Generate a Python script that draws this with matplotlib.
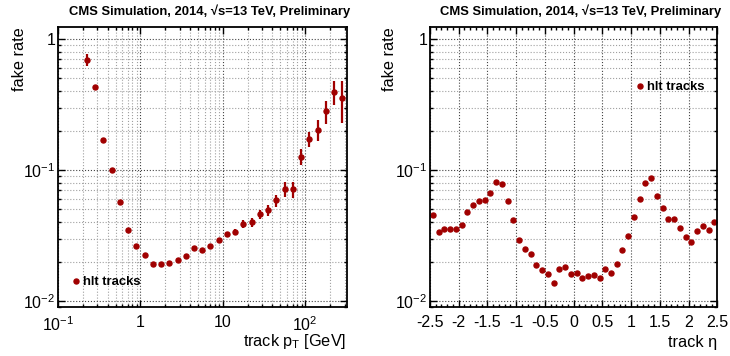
import matplotlib
matplotlib.use("Agg")
import matplotlib.pyplot as plt
import numpy as np
from matplotlib.lines import Line2D
from matplotlib.ticker import FixedLocator, FuncFormatter, NullFormatter, MultipleLocator, LogLocator

plt.rcParams['font.family'] = ['Liberation Sans', 'DejaVu Sans']
plt.rcParams['mathtext.fontset'] = 'custom'
plt.rcParams['mathtext.rm'] = 'Liberation Sans'
plt.rcParams['mathtext.it'] = 'Liberation Sans:italic'
plt.rcParams['mathtext.bf'] = 'Liberation Sans:bold'
plt.rcParams['mathtext.default'] = 'regular'
plt.rcParams['axes.unicode_minus'] = False

# ---- data ----
# pT binning: 0.1 decade bins from 10^-1 to 10^2.5, first 3 bins empty
pt_edges = np.logspace(-1, 2.5, 36)
pt_centers = np.sqrt(pt_edges[:-1] * pt_edges[1:])[3:]
pt_rate = [0.695, 0.429, 0.170, 0.100, 0.0566, 0.0347, 0.0265, 0.0225, 0.0193, 0.0192,
           0.0195, 0.0207, 0.0222, 0.0255, 0.0247, 0.0262, 0.0290, 0.0322, 0.0337, 0.0388,
           0.0400, 0.0461, 0.0494, 0.0586, 0.0716, 0.0713, 0.1264, 0.172, 0.203, 0.281,
           0.397, 0.354]
pt_err = [0.07, 0.012, 0.005, 0.003, 0.0015, 0.001, 0.0008, 0.0007, 0.0006, 0.0006,
          0.0006, 0.0007, 0.0008, 0.0009, 0.0009, 0.001, 0.0012, 0.0015, 0.0017, 0.0024,
          0.0033, 0.0035, 0.0047, 0.006, 0.009, 0.010, 0.018, 0.023, 0.036, 0.056,
          0.081, 0.126]

# eta binning: 50 bins from -2.5 to 2.5
eta_edges = np.linspace(-2.5, 2.5, 51)
eta_centers = 0.5 * (eta_edges[:-1] + eta_edges[1:])
eta_rate = [0.0453, 0.0337, 0.0352, 0.0352, 0.0352, 0.0382, 0.0477, 0.0543, 0.0582, 0.0586,
            0.0670, 0.0814, 0.0785, 0.0576, 0.0419, 0.0293, 0.0250, 0.0229, 0.0187, 0.0171,
            0.0162, 0.0138, 0.0175, 0.0182, 0.0162, 0.0165, 0.0151, 0.0155, 0.0159, 0.0151,
            0.0175, 0.0165, 0.0190, 0.0244, 0.0311, 0.0435, 0.0600, 0.0796, 0.0864, 0.0633,
            0.0509, 0.0422, 0.0422, 0.0362, 0.0309, 0.0283, 0.0341, 0.0373, 0.0349, 0.0400]

title = "CMS Simulation, 2014, \u221as=13 TeV, Preliminary"
red = '#a00000'
ylo, yhi = 0.009, 1.23
ms = 3.6

W, H = 730, 356
fig = plt.figure(figsize=(W / 100, H / 100), dpi=100)
ax1 = fig.add_axes([58 / W, 1 - 307 / H, 288.5 / W, 279.7 / H])
ax2 = fig.add_axes([430 / W, 1 - 307 / H, 287.3 / W, 279.7 / H])


def pow_label(v, pos):
    e = int(round(np.log10(v)))
    if e == 0:
        return '1'
    if e == 1:
        return '10'
    return r'$10^{%d}$' % e


for ax in (ax1, ax2):
    ax.set_yscale('log')
    ax.set_ylim(ylo, yhi)
    ax.yaxis.set_major_locator(FixedLocator([0.01, 0.1, 1]))
    ax.yaxis.set_minor_locator(LogLocator(base=10, subs=np.arange(2, 10)))
    ax.yaxis.set_major_formatter(FuncFormatter(pow_label))
    ax.yaxis.set_minor_formatter(NullFormatter())
    ax.tick_params(which='both', direction='in', top=True, right=True, labelsize=11.5, width=1)
    ax.tick_params(which='major', length=4.8)
    ax.tick_params(which='minor', length=2.5)
    ax.tick_params(axis='y', pad=2)
    ax.tick_params(axis='x', pad=6)
    for s in ax.spines.values():
        s.set_linewidth(1.3)

handle = Line2D([], [], ls='none', marker='o', ms=ms, color=red)

# left panel: pT
ax1.set_xscale('log')
ax1.set_xlim(0.1, 10 ** 2.5)
ax1.xaxis.set_major_locator(FixedLocator([0.1, 1, 10, 100]))
ax1.xaxis.set_minor_locator(LogLocator(base=10, subs=np.arange(2, 10)))
ax1.xaxis.set_major_formatter(FuncFormatter(pow_label))
ax1.xaxis.set_minor_formatter(NullFormatter())
ax1.grid(which='major', ls=':', color='#444444', lw=0.8)
ax1.grid(which='minor', ls=':', color='#a0a0a0', lw=0.8)
ax1.set_axisbelow(True)
ax1.errorbar(pt_centers, pt_rate, yerr=pt_err, fmt='o', ms=ms, color=red,
             elinewidth=1.6, capsize=0)
ax1.legend([handle], ['hlt tracks'], loc='center left', bbox_to_anchor=(0.049, 0.088),
           frameon=False, handlelength=0.6, handletextpad=0.25, borderpad=0,
           borderaxespad=0, prop={'weight': 'bold', 'size': 9.4})

# right panel: eta
ax2.set_xlim(-2.5, 2.5)
ax2.xaxis.set_major_locator(MultipleLocator(0.5))
ax2.xaxis.set_minor_locator(MultipleLocator(0.1))
ax2.xaxis.set_major_formatter(FuncFormatter(lambda v, p: '%g' % round(v, 1)))
ax2.grid(which='major', axis='x', ls=':', color='#444444', lw=0.8)
ax2.grid(which='major', axis='y', ls=':', color='#444444', lw=0.8)
ax2.grid(which='minor', axis='y', ls=':', color='#a0a0a0', lw=0.8)
ax2.set_axisbelow(True)
ax2.plot(eta_centers, eta_rate, 'o', ms=ms, color=red)
ax2.legend([handle], ['hlt tracks'], loc='center left', bbox_to_anchor=(0.718, 0.7855),
           frameon=False, handlelength=0.6, handletextpad=0.25, borderpad=0,
           borderaxespad=0, prop={'weight': 'bold', 'size': 9.4})

# titles and axis labels
fig.text(210 / W, 1 - 11.7 / H, title, ha='center', va='center', fontsize=9.4, fontweight='bold')
fig.text(581 / W, 1 - 11.7 / H, title, ha='center', va='center', fontsize=9.4, fontweight='bold')
fig.text(19 / W, 1 - 27 / H, 'fake rate', rotation=90, ha='center', va='top', fontsize=11.7)
fig.text(390 / W, 1 - 27 / H, 'fake rate', rotation=90, ha='center', va='top', fontsize=11.7)
fig.text(346.7 / W, 1 - 341.7 / H, r'track p$_{T}$ [GeV]', ha='right', va='center', fontsize=11.7)
fig.text(717.3 / W, 1 - 342.7 / H, 'track \u03b7', ha='right', va='center', fontsize=11.7)

fig.savefig('out.png', dpi=100)
